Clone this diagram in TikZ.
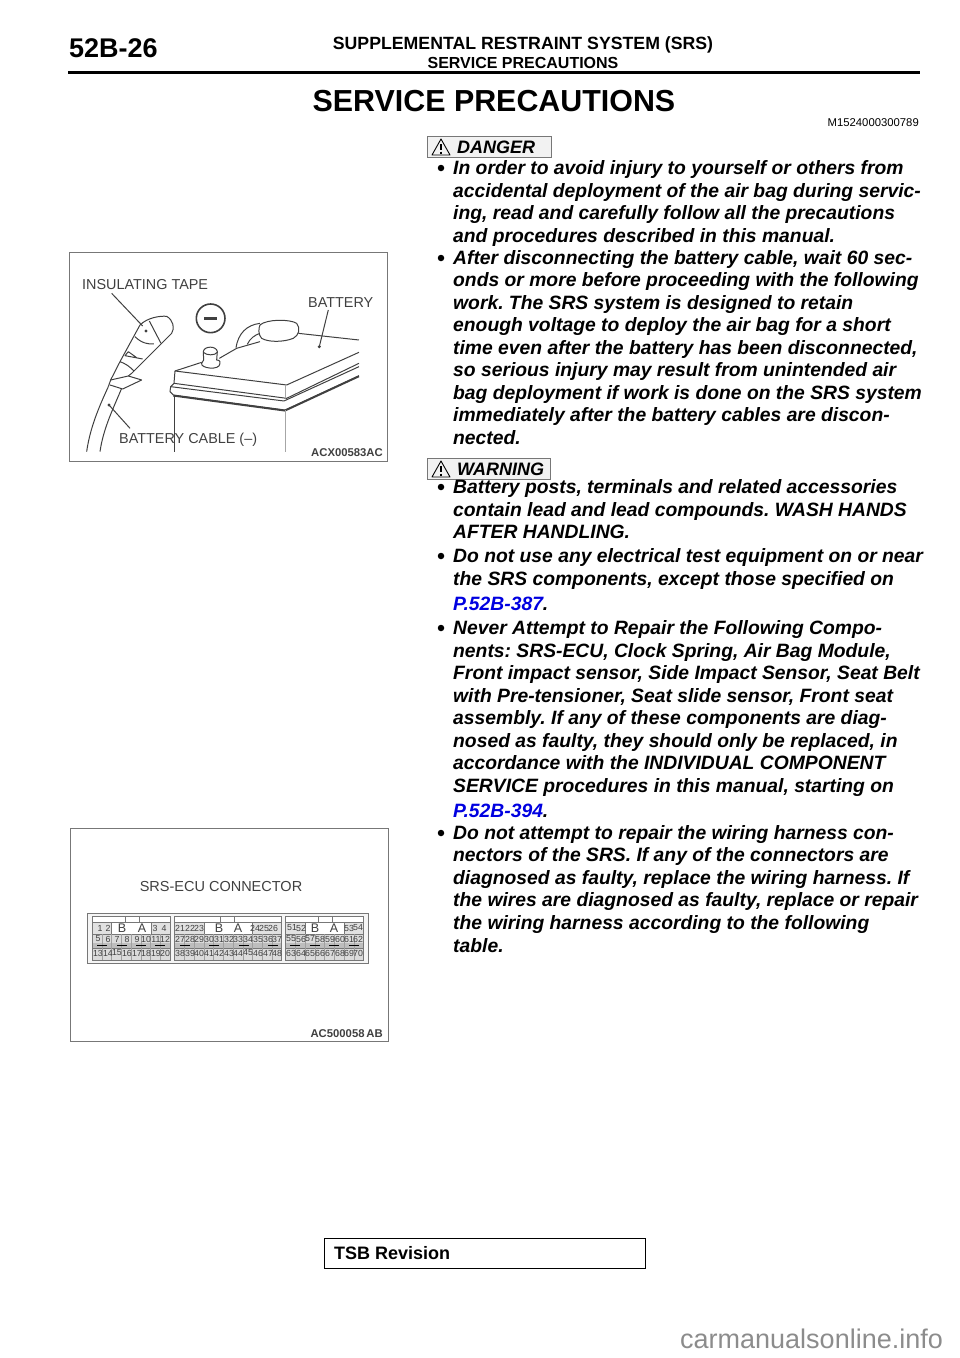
\documentclass[tikz,border=0pt]{standalone}
\usepackage{fontspec}
\setmainfont{Liberation Sans}
\usepackage{xcolor}
\definecolor{labelgray}{HTML}{404040}
\definecolor{linkblue}{HTML}{0000E0}
\definecolor{cellgray}{HTML}{BDBDBD}
\definecolor{framegray}{HTML}{777777}
\tikzset{
    bodyline/.style={anchor=base west, inner sep=0pt, font=\fontsize{19.3}{22}\selectfont\bfseries\itshape},
    bulletdot/.style={circle, fill=black, inner sep=0pt, minimum size=6.5pt},
    notebox/.style={draw=framegray, fill=black!5, line width=.8pt},
    tagline/.style={anchor=base west, inner sep=0pt, font=\fontsize{18}{20}\selectfont\bfseries\itshape},
    figlabel/.style={anchor=base west, inner sep=0pt, text=labelgray, font=\fontsize{14.4}{16}\selectfont},
    figcode/.style={anchor=base east, inner sep=0pt, text=labelgray, font=\fontsize{11.3}{12}\selectfont\bfseries},
    pinno/.style={inner sep=0pt, text=labelgray, font=\fontsize{8.8}{10}\selectfont},
    pinletter/.style={inner sep=0pt, text=labelgray, font=\fontsize{12.5}{14}\selectfont},
    sketch/.style={labelgray, line width=1pt, line join=round},
}
\begin{document}
\frenchspacing
\begin{tikzpicture}[x=1pt, y=-1pt]
    \useasboundingbox (0, 0) rectangle (960, 1358);
    % page head
    \node[anchor=base west, inner sep=0pt, font=\fontsize{27}{30}\selectfont\bfseries] (pageno) at (69, 57) {52B-26};
    \node[anchor=base, inner sep=0pt, font=\fontsize{17.7}{20}\selectfont\bfseries] (group) at (523, 49) {SUPPLEMENTAL RESTRAINT SYSTEM (SRS)};
    \node[anchor=base, inner sep=0pt, font=\fontsize{16}{18}\selectfont\bfseries] (section) at (523, 68) {SERVICE PRECAUTIONS};
    \draw[line width=3pt] (68, 72) -- (920, 72);
    \node[anchor=base, inner sep=0pt, font=\fontsize{30.4}{34}\selectfont\bfseries] (title) at (494, 111) {SERVICE PRECAUTIONS};
    \node[anchor=base east, inner sep=0pt, font=\fontsize{11.3}{12}\selectfont] (docno) at (919, 126) {M1524000300789};

    % note tags
    \draw[notebox] (427, 136) rectangle (551, 157);
    \draw[line width=.9pt, line join=round] (432, 155) -- (441, 139) -- (450, 155) -- cycle;
    \draw[line width=1.2pt] (441, 144) -- (441, 150) (441, 151.5) -- (441, 153.5);
    \node[tagline] (danger) at (457, 153) {DANGER};
    \draw[notebox] (427, 458) rectangle (550, 479);
    \draw[line width=.9pt, line join=round] (432, 477) -- (441, 461) -- (450, 477) -- cycle;
    \draw[line width=1.2pt] (441, 466) -- (441, 472) (441, 473.5) -- (441, 475.5);
    \node[tagline] (warning) at (457, 475) {WARNING};

    % body text
    \foreach \ypos/\txt in {
        167/{In order to avoid injury to yourself or others from},
        190/{accidental deployment of the air bag during servic-},
        212/{ing, read and carefully follow all the precautions},
        235/{and procedures described in this manual.},
        257/{After disconnecting the battery cable, wait 60 sec-},
        279/{onds or more before proceeding with the following},
        302/{work. The SRS system is designed to retain},
        324/{enough voltage to deploy the air bag for a short},
        347/{time even after the battery has been disconnected,},
        369/{so serious injury may result from unintended air},
        392/{bag deployment if work is done on the SRS system},
        414/{immediately after the battery cables are discon-},
        437/{nected.},
        486/{Battery posts, terminals and related accessories},
        509/{contain lead and lead compounds. WASH HANDS},
        531/{AFTER HANDLING.},
        555/{Do not use any electrical test equipment on or near},
        578/{the SRS components, except those specified on},
        603/{\textcolor{linkblue}{P.52B-387}.},
        627/{Never Attempt to Repair the Following Compo-},
        650/{nents: SRS-ECU, Clock Spring, Air Bag Module,},
        672/{Front impact sensor, Side Impact Sensor, Seat Belt},
        695/{with Pre-tensioner, Seat slide sensor, Front seat},
        717/{assembly. If any of these components are diag-},
        740/{nosed as faulty, they should only be replaced, in},
        762/{accordance with the INDIVIDUAL COMPONENT},
        785/{SERVICE procedures in this manual, starting on},
        810/{\textcolor{linkblue}{P.52B-394}.},
        832/{Do not attempt to repair the wiring harness con-},
        854/{nectors of the SRS. If any of the connectors are},
        877/{diagnosed as faulty, replace the wiring harness. If},
        899/{the wires are diagnosed as faulty, replace or repair},
        922/{the wiring harness according to the following},
        945/{table.}}
        \node[bodyline] (line\ypos) at (453, \ypos+7) {\txt};
    \foreach \ypos in {167, 257, 486, 555, 627, 832}
        \node[bulletdot] (dot\ypos) at (441, \ypos+1) {};

    % battery figure, in units of a third of a pixel
    \draw[framegray, line width=1pt] (69, 252) rectangle (387, 461);
    \begin{scope}[shift={(60, 245)}, x=.3333pt, y=-.3333pt]
        \draw[sketch] (145, 425) .. controls (115, 490) and (90, 550) .. (80, 620);
        \draw[sketch] (185, 430) .. controls (160, 490) and (130, 550) .. (120, 620);
        \draw[sketch] (145, 425) -- (152, 405) -- (180, 350) -- (240, 240) .. controls (262, 218) and (300, 212) .. (320, 214)
            .. controls (340, 225) and (345, 250) .. (335, 265) -- (300, 300) -- (215, 385) -- (205, 393);
        \draw[sketch] (152, 405) -- (205, 393) -- (245, 405) -- (188, 432) -- (150, 420);
        \draw[sketch] (268, 228) -- (303, 295);
        \draw[sketch] (225, 275) .. controls (245, 295) and (265, 298) .. (282, 297);
        \draw[sketch] (205, 320) -- (195, 332) -- (248, 342) (205, 320) -- (230, 338);
        \draw[sketch] (180, 350) .. controls (195, 355) and (210, 365) .. (222, 378);
        \fill[labelgray] (258, 258) circle (5) (147, 480) circle (5) (778, 305) circle (5);
        \draw[sketch] (155, 145) -- (248, 243);
        \draw[sketch] (210, 550) -- (147, 480);
        \draw[sketch] (805, 195) -- (778, 305);
        \draw[sketch, line width=1.6pt, fill=white] (452, 220) circle (43);
        \draw[line width=2.8pt, labelgray] (433, 220) -- (471, 220);
        \draw[sketch] (345, 378) -- (425, 352) (478, 340) -- (530, 310) (600, 290) -- (530, 310)
            (715, 265) -- (897, 285);
        \draw[sketch] (345, 378) -- (680, 420) -- (897, 322);
        \draw[sketch] (345, 378) -- (342, 415) -- (332, 425) -- (330, 440) -- (340, 450) -- (675, 495) -- (897, 392);
        \draw[sketch] (332, 425) -- (672, 468) -- (897, 365);
        \draw[sketch] (342, 415) -- (680, 460) -- (897, 355);
        \draw[labelgray, line width=1.8pt] (340, 452) -- (675, 497) -- (897, 394);
        \draw[sketch] (345, 450) -- (345, 622);
        \draw[black!35, line width=.6pt] (675, 495) -- (675, 620) (675, 420) -- (675, 460);
        \draw[sketch, fill=white] (425, 355) .. controls (420, 370) and (480, 378) .. (480, 355) .. controls (482, 345) and (472, 345) .. (470, 345)
            -- (472, 320) .. controls (470, 302) and (432, 302) .. (430, 320) -- (431, 345) .. controls (428, 347) and (425, 350) .. (425, 355);
        \draw[sketch] (430, 322) .. controls (440, 332) and (465, 332) .. (472, 322);
        \draw[sketch] (528, 308) .. controls (535, 265) and (560, 240) .. (600, 235);
        \draw[sketch] (562, 298) .. controls (570, 280) and (585, 270) .. (600, 265);
        \draw[sketch, fill=white] (600, 240) .. controls (620, 222) and (690, 222) .. (710, 235) .. controls (722, 250) and (718, 270) .. (700, 280)
            .. controls (670, 292) and (625, 292) .. (605, 280) .. controls (595, 270) and (595, 250) .. (600, 240);
    \end{scope}
    \node[figlabel] (tapelabel) at (82, 289) {INSULATING TAPE};
    \node[figlabel] (batterylabel) at (308, 307) {BATTERY};
    \node[figlabel] (cablelabel) at (119, 443) {BATTERY CABLE (–)};
    \node[figcode] (batterycode) at (383, 456) {ACX00583AC};

    % connector figure
    \draw[framegray, line width=1pt] (70, 828) rectangle (388, 1041);
    \node[anchor=base, inner sep=0pt, text=labelgray, font=\fontsize{14.5}{16}\selectfont] (ecutitle) at (221, 891) {SRS-ECU CONNECTOR};
    \draw[framegray, line width=.8pt, fill=black!4] (87, 913) rectangle (368, 963);
    % blocks: left edge, cell width, number of cells
    \foreach \blockleft/\cellw/\cellsn in {92/9.75/8, 174.5/9.75/11, 285.5/9.75/8} {
        \draw[framegray, fill=white, line width=.7pt] (\blockleft, 916) rectangle ({\blockleft+\cellw*\cellsn}, 960);
        \fill[cellgray!55] (\blockleft+.5, 934) rectangle ({\blockleft+\cellw*\cellsn-.5}, 959.5);
        \fill[cellgray] (\blockleft+.5, 943) rectangle ({\blockleft+\cellw*\cellsn-.5}, 948);
        \draw[framegray, line width=.6pt] (\blockleft, 922) -- ({\blockleft+\cellw*\cellsn}, 922)
            (\blockleft, 934) -- ({\blockleft+\cellw*\cellsn}, 934)
            (\blockleft, 948) -- ({\blockleft+\cellw*\cellsn}, 948);
        \foreach \i in {1, ..., \numexpr\cellsn-1\relax}
            \draw[framegray!70, line width=.4pt] ({\blockleft+\cellw*\i}, 934) -- ({\blockleft+\cellw*\i}, 960);
    }
    % numbered cells of the top row, left and right of the letters
    \foreach \cellleft/\cellright in {92/111.5, 151/170, 174.5/204, 252/281.5, 285.5/305, 344.5/363.5} {
        \fill[cellgray!45] (\cellleft+.5, 922.5) rectangle (\cellright-.5, 933.5);
        \draw[framegray, line width=.5pt] (\cellleft, 922) -- (\cellleft, 934) (\cellright, 922) -- (\cellright, 934);
    }
    % clips on the blocks
    \foreach \clipx in {132, 227, 325}
        \draw[framegray, line width=.7pt] (\clipx-7, 922) -- (\clipx-7, 916) -- (\clipx+7, 916) -- (\clipx+7, 922);
    % latches in the second row
    \foreach \latchx in {102, 122, 141, 160, 185, 214, 244, 273, 295, 315, 334, 354}
        \draw[black, line width=1.2pt] (\latchx-5, 945.5) -- (\latchx+5, 945.5);
    \foreach \numx/\numy/\numt in {
        100/928/1, 108/928/2, 155/928/3, 164/928/4,
        180/928/21, 190/928/22, 199/928/23, 255/928/24, 264/928/25, 273/928/26,
        292/928/51, 301/928/52, 349/928/53, 358/928/54,
        98/939/5, 108/939/6, 117/939/7, 127/939/8, 137/939/9, 146/939/10, 156/939/11, 165/939/12,
        98/953/13, 108/953/14, 117/953/15, 127/953/16, 137/953/17, 146/953/18, 156/953/19, 165/953/20,
        180/939/27, 190/939/28, 199/939/29, 209/939/30, 219/939/31, 229/939/32, 238/939/33, 248/939/34, 258/939/35, 268/939/36, 277/939/37,
        180/953/38, 190/953/39, 199/953/40, 209/953/41, 219/953/42, 229/953/43, 238/953/44, 248/953/45, 258/953/46, 268/953/47, 277/953/48,
        291/939/55, 301/939/56, 310/939/57, 320/939/58, 330/939/59, 340/939/60, 349/939/61, 358/939/62,
        291/953/63, 301/953/64, 310/953/65, 320/953/66, 330/953/67, 340/953/68, 349/953/69, 358/953/70}
        \node[pinno] (pin\numt) at (\numx, \numy) {\numt};
    \foreach \numx/\numt [count=\i] in {122/B, 142/A, 219/B, 238/A, 315/B, 334/A}
        \node[pinletter] (key\i) at (\numx, 928.5) {\numt};
    \node[figcode] (connectorcode) at (383, 1037) {AC500058\,AB};

    % page foot
    \draw[line width=.8pt] (324, 1238) rectangle (645, 1268);
    \node[anchor=base west, inner sep=0pt, font=\fontsize{18}{20}\selectfont\bfseries] (tsb) at (334, 1259) {TSB Revision};
    \node[anchor=base west, inner sep=0pt, text=black!45, font=\fontsize{27}{28}\selectfont] (site) at (680, 1348) {carmanualsonline.info};
\end{tikzpicture}
\end{document}
